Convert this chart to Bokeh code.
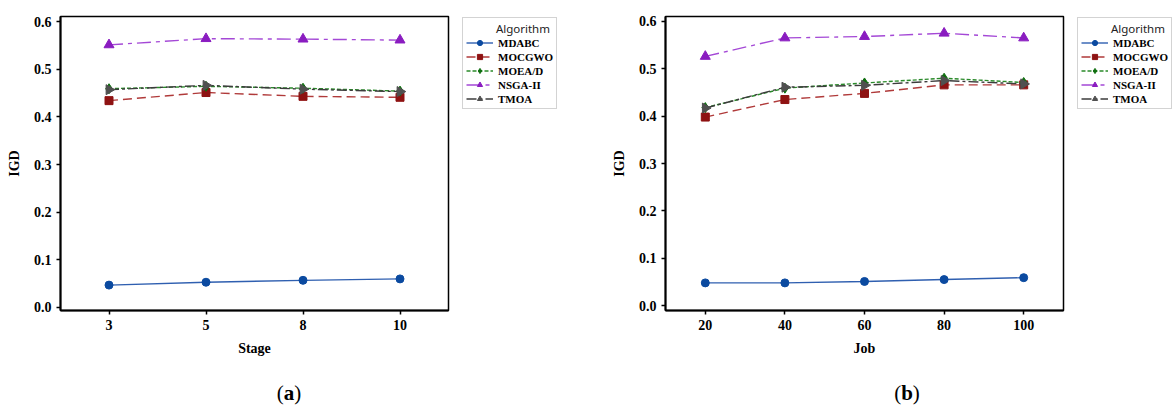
from bokeh.plotting import figure
from bokeh.models import (Range1d, FactorRange, FixedTicker, NumeralTickFormatter,
                          Legend, LegendItem, Div)
from bokeh.layouts import column, row
from bokeh.embed import file_html
from bokeh.resources import INLINE
import math

algorithms = ["MDABC", "MOCGWO", "MOEA/D", "NSGA-II", "TMOA"]

stage_labels = ["3", "5", "8", "10"]
stage_MDABC = [0.047, 0.053, 0.057, 0.060]
stage_MOCGWO = [0.434, 0.451, 0.443, 0.441]
stage_MOEAD = [0.459, 0.464, 0.460, 0.454]
stage_NSGAII = [0.551, 0.564, 0.563, 0.561]
stage_TMOA = [0.457, 0.466, 0.458, 0.453]

job_labels = ["20", "40", "60", "80", "100"]
job_MDABC = [0.048, 0.048, 0.051, 0.055, 0.059]
job_MOCGWO = [0.398, 0.435, 0.448, 0.466, 0.466]
job_MOEAD = [0.418, 0.459, 0.470, 0.480, 0.471]
job_NSGAII = [0.526, 0.565, 0.568, 0.575, 0.565]
job_TMOA = [0.417, 0.461, 0.465, 0.475, 0.468]

igd_ticks = [0.0, 0.1, 0.2, 0.3, 0.4, 0.5, 0.6]

styles = {
    "MDABC":   dict(line="#2f5fb0", dash="solid", marker="circle", mcolor="#0b4aa0", size=8, angle=0.0),
    "MOCGWO":  dict(line="#b03a3a", dash="9 5", marker="square", mcolor="#8e1212", size=8, angle=0.0),
    "MOEA/D":  dict(line="#2a8a2a", dash="4 2", marker="diamond", mcolor="#0f6e0f", size=10, angle=0.0),
    "NSGA-II": dict(line="#a448d6", dash="14 5 4 5", marker="triangle", mcolor="#8a1cc0", size=10, angle=0.0),
    "TMOA":    dict(line="#3c3c3c", dash="10 3 3 3", marker="triangle", mcolor="#505050", size=10, angle=-math.pi / 2),
}

SERIF = "Liberation Serif"


def draw_series(p, name, xs, ys, lw=1.4):
    s = styles[name]
    r1 = p.line(xs, ys, line_color=s["line"], line_dash=s["dash"], line_width=lw)
    r2 = p.scatter(xs, ys, marker=s["marker"], size=s["size"], angle=s["angle"],
                   fill_color=s["mcolor"], line_color=s["mcolor"])
    return r1, r2


def make_panel(labels, series, xlabel, width, height, bl, br, bt, bb, yr):
    p = figure(width=width, height=height, x_range=FactorRange(*labels),
               y_range=Range1d(*yr), output_backend="svg", toolbar_location=None,
               min_border_left=bl, min_border_right=br, min_border_top=bt,
               min_border_bottom=bb)
    p.xgrid.visible = False
    p.ygrid.visible = False
    p.outline_line_color = "black"
    p.outline_line_width = 1.5
    p.background_fill_color = "white"
    p.border_fill_color = "white"

    for name, vals in zip(algorithms, series):
        draw_series(p, name, labels, vals)

    p.yaxis.ticker = FixedTicker(ticks=igd_ticks)
    p.yaxis.formatter = NumeralTickFormatter(format="0.0")
    for ax in (p.xaxis[0], p.yaxis[0]):
        ax.axis_line_width = 2
        ax.axis_line_color = "black"
        ax.major_tick_line_color = "black"
        ax.major_tick_line_width = 1.5
        ax.major_tick_in = 0
        ax.major_tick_out = 4
        ax.minor_tick_line_color = None
        ax.major_label_text_font = SERIF
        ax.major_label_text_font_style = "bold"
        ax.major_label_text_font_size = "14px"
        ax.major_label_text_color = "black"
        ax.axis_label_text_font = SERIF
        ax.axis_label_text_font_style = "bold"
        ax.axis_label_text_font_size = "14px"
        ax.axis_label_text_color = "black"
    p.yaxis.axis_label = "IGD"
    p.yaxis.major_label_standoff = 5
    p.yaxis.axis_label_standoff = 9
    p.xaxis.axis_label = xlabel
    p.xaxis.major_label_standoff = 5
    p.xaxis.axis_label_standoff = 8
    return p


def make_legend_fig(width, height, top):
    q = figure(width=width, height=height, x_range=Range1d(0, 1), y_range=Range1d(0, 1),
               output_backend="svg", toolbar_location=None, min_border_left=0,
               min_border_right=0, min_border_top=top, min_border_bottom=0)
    q.axis.visible = False
    q.grid.visible = False
    q.outline_line_color = None
    q.background_fill_color = "white"
    q.border_fill_color = "white"
    items = []
    for name in algorithms:
        # points far outside the visible range: only the legend swatch shows
        r1, r2 = draw_series(q, name, [-5, -6], [-5, -6])
        items.append(LegendItem(label=name, renderers=[r1, r2]))
    legend = Legend(items=items, location="top_left", title="\u00a0" * 10 + "Algorithm",
                    title_text_font="Noto Sans", title_text_font_size="11.5px",
                    title_text_font_style="normal", title_standoff=0,
                    title_text_color="#222222",
                    label_text_font=SERIF, label_text_font_style="bold",
                    label_text_font_size="11px", label_text_color="black",
                    label_height=13, glyph_height=13,
                    glyph_width=27, label_standoff=5, spacing=1, padding=3, margin=1,
                    border_line_color="#a8a8a8", border_line_width=1,
                    background_fill_color="white", background_fill_alpha=1.0)
    q.add_layout(legend, "center")
    return q


fa = make_panel(stage_labels,
                [stage_MDABC, stage_MOCGWO, stage_MOEAD, stage_NSGAII, stage_TMOA],
                "Stage", 461, 370, 60, 13, 16, 60, (-0.0063, 0.6105))
la = make_legend_fig(125, 370, 13)
fb = make_panel(job_labels,
                [job_MDABC, job_MOCGWO, job_MOEAD, job_NSGAII, job_TMOA],
                "Job", 490, 370, 79, 13, 9, 60, (-0.0103, 0.6103))
lb = make_legend_fig(96, 370, 6)

cap_style = "width:586px;box-sizing:border-box;text-align:center;font-family:'Liberation Serif';font-size:21px;color:black;margin-top:3px;"
da = Div(text='<div style="' + cap_style + 'padding-right:18px;">(<b>a</b>)</div>', width=586, height=38)
db = Div(text='<div style="' + cap_style + 'padding-left:26px;">(<b>b</b>)</div>', width=586, height=38)

layout = column(row(fa, la, fb, lb), row(da, db))
open("out.html", "w").write(file_html(layout, INLINE))
